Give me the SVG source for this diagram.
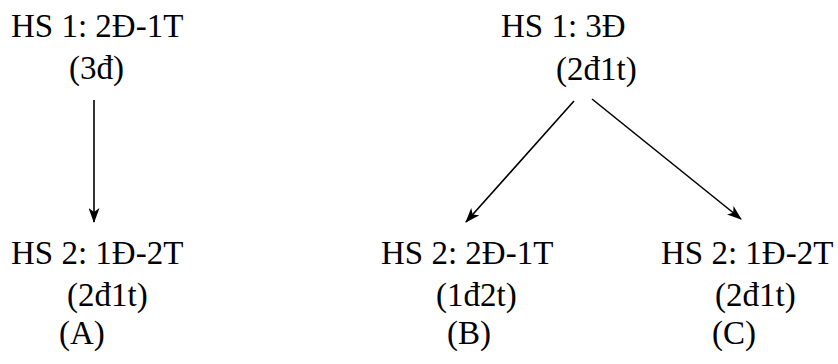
<svg xmlns="http://www.w3.org/2000/svg" width="838" height="364" viewBox="0 0 838 364">
<defs>
<style>
text{font-family:"Liberation Serif","Times New Roman",serif;font-size:33px;fill:#000}
.c{stroke:#000;stroke-width:1.6;fill:none}
</style>
<marker id="ah" viewBox="0 0 15 11" refX="14" refY="5.5" markerWidth="15" markerHeight="11" markerUnits="userSpaceOnUse" orient="auto">
<path d="M0,0 L15,5.5 L0,11 L4,5.5 z" fill="#000"/>
</marker>
</defs>
<rect width="838" height="364" fill="#fff"/>
<g id="connectors">
<line class="c" x1="94" y1="100" x2="94" y2="222" marker-end="url(#ah)"/>
<line class="c" x1="574" y1="101" x2="466" y2="222" marker-end="url(#ah)"/>
<line class="c" x1="592" y1="99" x2="741" y2="219" marker-end="url(#ah)"/>
</g>
<g id="a1">
<text x="11" y="37">HS 1: 2Đ-1T</text>
<text x="69" y="79">(3đ)</text>
</g>
<g id="a2">
<text x="11" y="264">HS 2: 1Đ-2T</text>
<text x="67" y="306">(2đ1t)</text>
</g>
<g id="labelA"><text x="59" y="344">(A)</text></g>
<g id="b1">
<text x="501" y="37">HS 1: 3Đ</text>
<text x="556" y="80">(2đ1t)</text>
</g>
<g id="b2">
<text x="381" y="264">HS 2: 2Đ-1T</text>
<text x="436" y="306">(1đ2t)</text>
</g>
<g id="labelB"><text x="447" y="344">(B)</text></g>
<g id="c2">
<text x="661" y="264">HS 2: 1Đ-2T</text>
<text x="715" y="306">(2đ1t)</text>
</g>
<g id="labelC"><text x="712" y="344">(C)</text></g>
</svg>
